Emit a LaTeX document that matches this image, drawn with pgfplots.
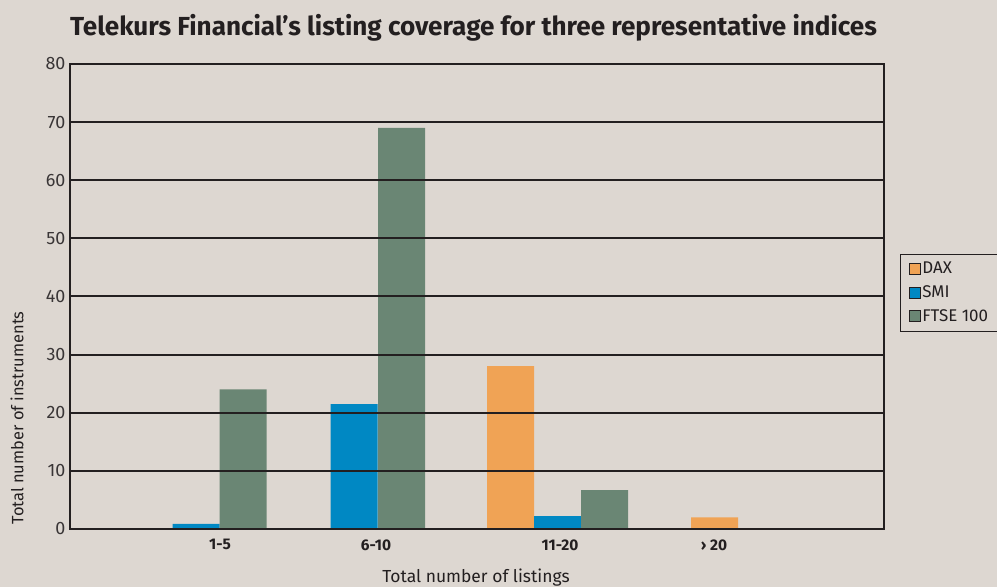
\documentclass[border=0pt]{standalone}
\usepackage{fontspec}
\setmainfont{Fira Sans}
\usepackage{pgfplots}
\pgfplotsset{compat=1.18}
\definecolor{bg}{RGB}{221,215,209}
\definecolor{dax}{RGB}{240,163,85}
\definecolor{smi}{RGB}{0,136,195}
\definecolor{ftse}{RGB}{106,134,116}
\definecolor{ink}{RGB}{35,31,32}
\begin{document}
\begin{tikzpicture}[x=1bp,y=1bp]
\path[use as bounding box] (0,0) rectangle (997,587);
\clip (0,0) rectangle (997,587);
\fill[bg] (0,0) rectangle (997,587);
\node[anchor=west,inner sep=0pt,text=ink] at (70,559) {\fontsize{26.2}{30}\selectfont\bfseries Telekurs Financial’s listing coverage for three representative indices};
\begin{axis}[
  at={(70bp,58bp)}, anchor=south west,
  width=814bp, height=465bp, scale only axis,
  xmin=70, xmax=884, ymin=0, ymax=80,
  ybar, bar shift=0pt, bar width=47,
  axis on top=true,
  axis line style={ink, line width=2bp},
  ymajorgrids, grid style={ink, line width=2bp},
  ytick={0,10,...,80},
  xtick={220,376,560,714},
  xticklabels={1-5,6-10,11-20,\char"203A\ 20},
  major tick length=0pt,
  yticklabel style={font=\fontsize{18}{21}\selectfont, text=ink!90, xshift=-1bp},
  xticklabel style={font=\fontsize{15.5}{18}\selectfont\bfseries, text=ink, yshift=-7bp},
  /pgf/number format/assume math mode=true,
  legend style={at={(1.0197,0.592)}, anchor=north west, draw=ink, line width=1bp, fill=bg,
    font=\fontsize{17}{20}\selectfont, text=ink, row sep=6.5bp, inner xsep=8bp, inner ysep=6bp},
  legend image code/.code={\draw[#1,draw=ink,line width=0.8bp] (0bp,-5.5bp) rectangle (11bp,5.5bp);},
  legend cell align=left,
]
\addplot[fill=dax, draw=none] coordinates {(510.5,28) (714.5,2)};
\addplot[fill=smi, draw=none] coordinates {(196,0.9) (354,21.5) (557.5,2.2)};
\addplot[fill=ftse, draw=none] coordinates {(243,24) (401.5,69) (604.5,6.7)};
\legend{DAX,SMI,FTSE 100}
\end{axis}
\node[text=ink] at (476,9) {\fontsize{17.5}{20}\selectfont Total number of listings};
\node[text=ink, rotate=90] at (17,169) {\fontsize{16.5}{19}\selectfont Total number of instruments};
\end{tikzpicture}
\end{document}
